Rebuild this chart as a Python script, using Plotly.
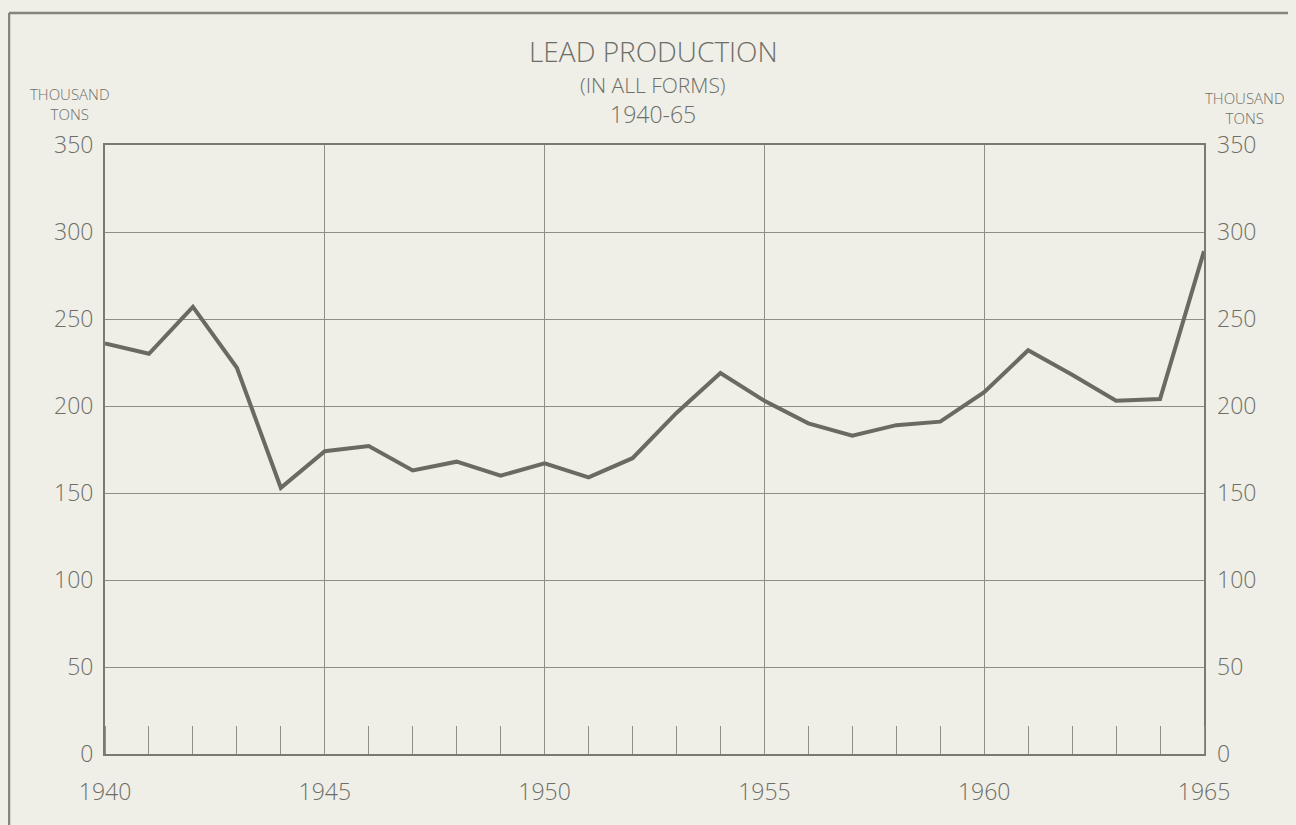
import plotly.graph_objects as go

# ---- data ----
years = list(range(1940, 1966))
lead_thousand_tons = [236, 230, 257, 222, 153, 174, 177, 163, 168, 160, 167, 159, 170,
                      196, 219, 203, 190, 183, 189, 191, 208, 232, 218, 203, 204, 289]
y_ticks = [0, 50, 100, 150, 200, 250, 300, 350]
x_label_years = [1940, 1945, 1950, 1955, 1960, 1965]

title_main = "LEAD PRODUCTION"
title_sub1 = "(IN ALL FORMS)"
title_sub2 = "1940-65"
unit_label = "THOUSAND<br>TONS"

# ---- layout geometry (page pixels; page has an 8px body offset) ----
OFF = 8
W, H = 1296 - OFF, 825 - OFF
L, R, T, B = 105, 1204, 145, 754  # page coords of plot area
TXT = "#6e6e68"
GRID = "#8e8e86"
BG = "#efefe7"
FONT = "Open Sans, DejaVu Sans, sans-serif"


def px_x(px):
    return (px - L) / (R - L)


def px_y(py):
    return (B - py) / (B - T)


fig = go.Figure()
fig.add_trace(go.Scatter(
    x=years, y=lead_thousand_tons, mode="lines",
    line=dict(color="#6a6a63", width=4), showlegend=False, hoverinfo="x+y",
))
fig.add_trace(go.Scatter(
    x=years, y=lead_thousand_tons, mode="lines", yaxis="y2",
    line=dict(width=0), opacity=0, showlegend=False, hoverinfo="skip",
))

axis_font = dict(family=FONT, size=23, color=TXT, weight=300)

fig.update_layout(
    width=W, height=H, autosize=False,
    margin=dict(l=L - OFF, r=1296 - R, t=T - OFF, b=825 - B),
    paper_bgcolor=BG, plot_bgcolor=BG,
    font=dict(family=FONT, color=TXT),
    xaxis=dict(
        range=[1940, 1965], tickvals=x_label_years, ticktext=[str(v) for v in x_label_years],
        showgrid=True, gridcolor=GRID, gridwidth=1.2,
        ticks="", tickfont=axis_font, ticklabelstandoff=16,
        showline=True, linecolor="#7a7a72", linewidth=2, mirror=True,
        zeroline=False, fixedrange=True,
        minor=dict(dtick=1, tick0=1940, ticks="inside", ticklen=28, tickcolor=GRID, tickwidth=1.2, showgrid=False),
    ),
    yaxis=dict(
        range=[0, 350], tickvals=y_ticks, ticks="", tickfont=axis_font,
        showgrid=True, gridcolor=GRID, gridwidth=1.2,
        showline=True, linecolor="#7a7a72", linewidth=2, mirror=True,
        zeroline=False, ticklabelstandoff=5, fixedrange=True,
    ),
    yaxis2=dict(
        range=[0, 350], tickvals=y_ticks, ticks="", tickfont=axis_font,
        overlaying="y", side="right", showgrid=False, zeroline=False,
        ticklabelstandoff=12, fixedrange=True,
    ),
)

ann = []
ann.append(dict(text=title_main, x=px_x(653), y=px_y(51), font=dict(size=28, color=TXT, family=FONT, weight=300)))
ann.append(dict(text=title_sub1, x=px_x(653), y=px_y(85), font=dict(size=21, color=TXT, family=FONT, weight=300)))
ann.append(dict(text=title_sub2, x=px_x(653), y=px_y(114), font=dict(size=23, color=TXT, family=FONT, weight=300)))
ann.append(dict(text=unit_label, x=px_x(70), y=px_y(104), font=dict(size=15, color=TXT, family=FONT, weight=300)))
ann.append(dict(text=unit_label, x=px_x(1245), y=px_y(108), font=dict(size=15, color=TXT, family=FONT, weight=300)))
for a in ann:
    a.update(xref="paper", yref="paper", showarrow=False, xanchor="center", yanchor="middle")
fig.update_layout(annotations=ann)

# outer frame (left and top edges of the sheet border)
fig.add_shape(type="line", xref="paper", yref="paper",
              x0=px_x(9), x1=px_x(9), y0=px_y(13), y1=px_y(826),
              line=dict(color="#85857d", width=2.5))
fig.add_shape(type="line", xref="paper", yref="paper",
              x0=px_x(9), x1=px_x(1296), y0=px_y(13), y1=px_y(13),
              line=dict(color="#85857d", width=2.5))

fig.write_html("out.html", post_script="document.body.style.background='%s';" % BG)
